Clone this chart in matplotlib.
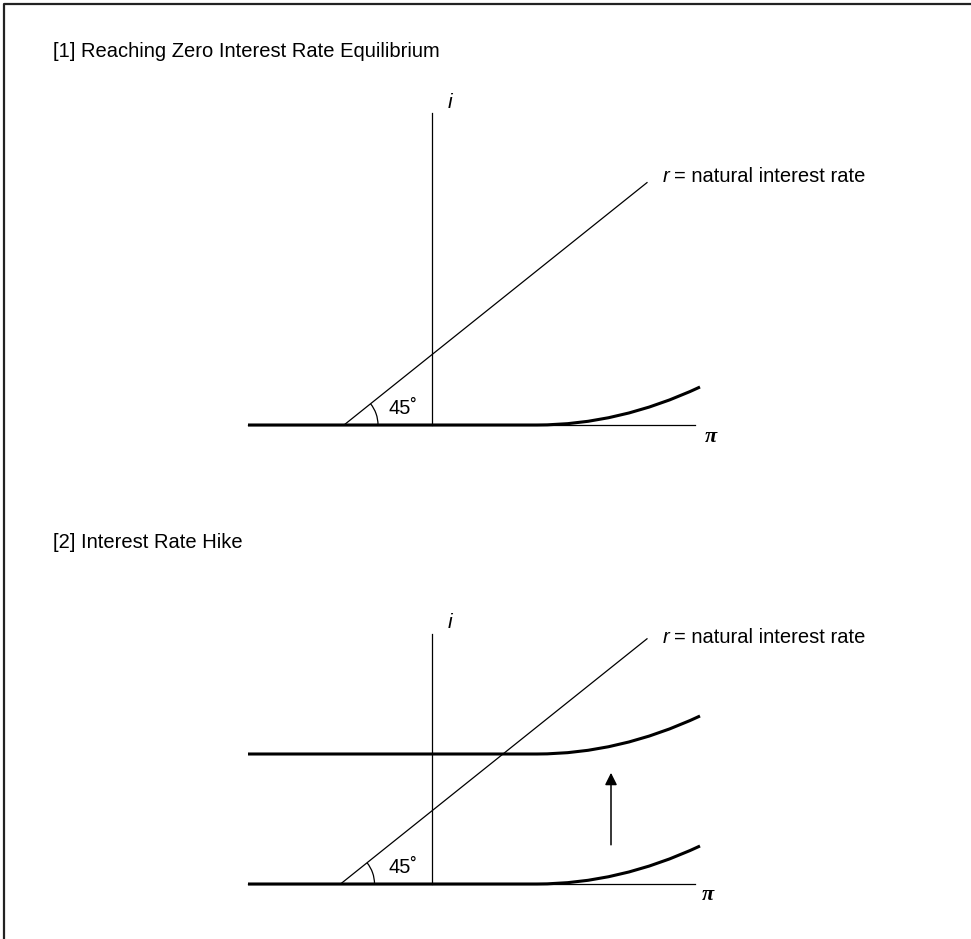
import matplotlib
matplotlib.use("Agg")
import matplotlib.pyplot as plt
from matplotlib.path import Path
from matplotlib.patches import PathPatch, Arc
from matplotlib.lines import Line2D

plt.rcParams['font.family'] = ['Liberation Sans', 'DejaVu Sans']

# --- data (pi on x, i on y) ---
titles = ["[1] Reaching Zero Interest Rate Equilibrium", "[2] Interest Rate Hike"]
r_label = "= natural interest rate"

# natural rate line i = pi + r0, drawn between these pi values
r0 = [0.88, 0.915]
r_pi_end = 2.15

# policy rule: flat at zero then bends up (quadratic bezier)
policy_x = [-1.84, 1.05, 1.87, 2.68]
policy_y = [0.0, 0.0, 0.0, 0.475]
hike = 1.625          # upward shift of the rule in panel 2

axis_pi = [-1.84, 2.63]
axis_i_top = [3.90, 3.125]

arrow_pi = 1.79
arrow_from, arrow_to = 0.49, 1.39

W, H = 971, 939
fig = plt.figure(figsize=(W / 100, H / 100), dpi=100)

# frame (only top and left are visible in the reference)
fig.add_artist(Line2D([4 / W, 4 / W, 1.0], [0.0, 1 - 4 / H, 1 - 4 / H],
                      transform=fig.transFigure, color='#222222', lw=1.6))

# panel pixel windows: (top px, bottom px, origin y px)
panels = [(80, 470, 425), (590, 930, 884)]
title_y = [57, 548]

for k, (top, bot, oy) in enumerate(panels):
    ax = fig.add_axes([0, 1 - bot / H, 1, (bot - top) / H])
    ax.set_xlim(-432 / 100, (W - 432) / 100)
    ax.set_ylim((oy - bot) / 80, (oy - top) / 80)
    ax.axis('off')

    # axes of the diagram
    ax.plot(axis_pi, [0, 0], color='black', lw=0.9)
    ax.plot([0, 0], [0, axis_i_top[k]], color='black', lw=0.9)

    # natural interest rate line
    ax.plot([-r0[k], r_pi_end], [0, r_pi_end + r0[k]], color='black', lw=0.9)

    # policy rule(s)
    shifts = [0.0] if k == 0 else [0.0, hike]
    for s in shifts:
        verts = [(x, y + s) for x, y in zip(policy_x, policy_y)]
        codes = [Path.MOVETO, Path.LINETO, Path.CURVE3, Path.CURVE3]
        ax.add_patch(PathPatch(Path(verts, codes), fill=False, lw=2.2,
                               edgecolor='black', capstyle='butt'))

    # 45 degree arc
    ax.add_patch(Arc((-r0[k], 0), 0.68, 0.85, theta1=0, theta2=45,
                     color='black', lw=0.9))
    ax.text(-0.44, 0.1375, "45\u02da", fontsize=14.5, ha='left', va='baseline')

    ax.text(0.18, (oy - (102 if k == 0 else 623)) / 80, "i", fontsize=15,
            style='italic', ha='center', va='center')
    ax.text(2.31, 3.04 if k == 0 else 3.01, "r", fontsize=14.5, style='italic',
            ha='left', va='baseline')
    ax.text(2.42, 3.04 if k == 0 else 3.01, r_label, fontsize=14.5,
            ha='left', va='baseline')
    ax.text(2.79 if k == 0 else 2.76, -0.15 if k == 0 else -0.14, "\u03c0",
            family='Liberation Serif', style='italic', weight='bold',
            fontsize=16, ha='center', va='center')

    if k == 1:
        ax.annotate("", xy=(arrow_pi, arrow_to), xytext=(arrow_pi, arrow_from),
                    arrowprops=dict(arrowstyle='-|>', color='black', lw=1.1,
                                    mutation_scale=18, shrinkA=0, shrinkB=0))

    fig.text(53 / W, 1 - title_y[k] / H, titles[k], fontsize=14.5,
             ha='left', va='baseline')

fig.savefig("out.png", dpi=100, facecolor='white')
